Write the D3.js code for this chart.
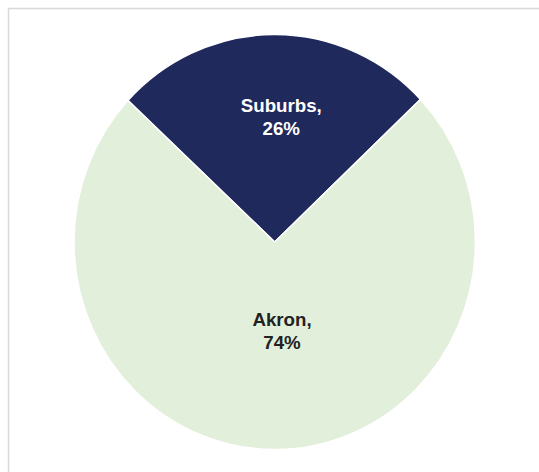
<!DOCTYPE html>
<html>
<head>
<meta charset="utf-8">
<script src="https://cdn.jsdelivr.net/npm/d3@7"></script>
<style>
  html, body { margin: 0; padding: 0; background: #fff; }
  svg { display: block; }
</style>
</head>
<body>
<svg id="chart" width="539" height="472"></svg>
<script>
// Share of residents by location
const categories = ["Suburbs", "Akron"];
const shares = [26, 74];
const sliceColors = ["#1f295c", "#e2efda"];
const labelColors = ["#ffffff", "#222222"];

const svg = d3.select("#chart");
const W = 539, H = 472;

// chart frame (runs past the right and bottom edges)
svg.append("rect")
  .attr("x", 8.5).attr("y", 8.5)
  .attr("width", 700).attr("height", 700)
  .attr("fill", "#fff")
  .attr("stroke", "#d9d9d9")
  .attr("stroke-width", 1.5);

const cx = 274.7, cy = 242, r = 200.7, yStretch = 1.034;

const pie = d3.pie()
  .sort(null)
  .value(d => d)
  .startAngle(-47 * Math.PI / 180)
  .endAngle(-47 * Math.PI / 180 + 2 * Math.PI);

const arcs = pie(shares);
const arc = d3.arc().innerRadius(0).outerRadius(r);

const g = svg.append("g")
  .attr("transform", `translate(${cx},${cy}) scale(1,${yStretch})`);

g.selectAll("path")
  .data(arcs)
  .join("path")
  .attr("d", arc)
  .attr("fill", (d, i) => sliceColors[i])
  .attr("stroke", "#fff")
  .attr("stroke-width", 1.5);

// data labels, placed along each slice's mid-angle
const labelRadius = [0.6, 0.43];
const labels = svg.append("g")
  .attr("font-family", "Liberation Sans, Arial, sans-serif")
  .attr("font-weight", "bold")
  .attr("font-size", "18.7px")
  .attr("text-anchor", "middle");

arcs.forEach((d, i) => {
  const mid = (d.startAngle + d.endAngle) / 2;
  const rr = r * labelRadius[i];
  const x = cx + Math.sin(mid) * rr + 7;
  const y = cy - Math.cos(mid) * rr * yStretch;
  const t = labels.append("text")
    .attr("fill", labelColors[i]);
  t.append("tspan").attr("x", x).attr("y", y - 5.5).text(categories[i] + ",");
  t.append("tspan").attr("x", x).attr("y", y + 18).text(shares[i] + "%");
});
</script>
</body>
</html>
